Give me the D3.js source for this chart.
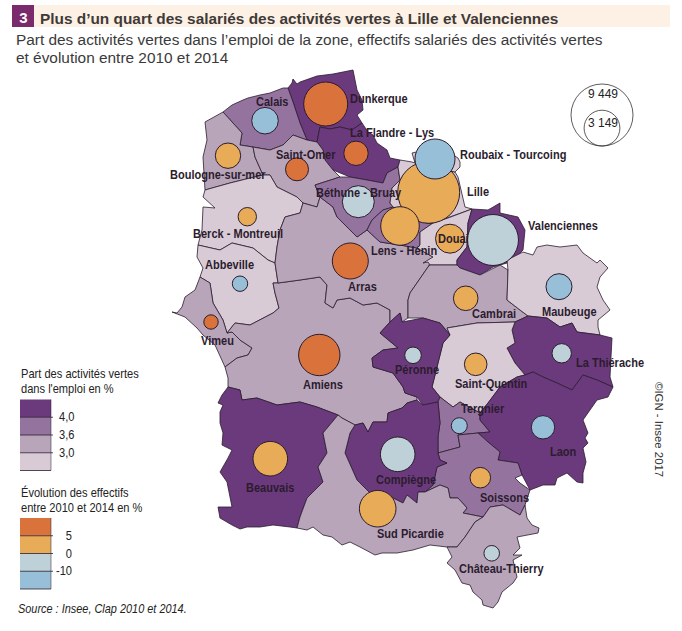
<!DOCTYPE html>
<html>
<head>
<meta charset="utf-8">
<script src="https://d3js.org/d3.v7.min.js"></script>
<style>
  html, body { margin: 0; padding: 0; background: #fff; }
  text { font-family: "Liberation Sans", Arial, sans-serif; }
</style>
</head>
<body>
<svg id="chart" width="682" height="631"></svg>
<script>
// zones, all the lists below are in the same order
var zoneNames = ['Dunkerque','La Flandre - Lys','Calais','Boulogne-sur-mer','Saint-Omer','Berck - Montreuil','Abbeville','Vimeu','Amiens','Arras','Béthune - Bruay','Lens - Hénin','Lille','Roubaix - Tourcoing','Douai','Valenciennes','Cambrai','Maubeuge','La Thiérache','Saint-Quentin','Péronne','Tergnier','Laon','Soissons','Compiègne','Beauvais','Sud Picardie','Château-Thierry'];
var zoneShare = [4.4,4.3,3.8,3.3,3.3,2.8,2.8,3.3,3.3,3.3,3.8,3.8,2.8,2.8,2.8,4.4,3.3,2.8,4.2,2.8,4.2,3.8,4.2,3.8,4.3,4.3,3.3,3.3];
var zoneStaff = [4759,1463,1739,1586,1300,832,583,510,4213,3186,2517,3662,9449,3933,2067,6393,1488,1662,925,1255,677,630,1346,1043,2943,2943,3293,598];
var zoneChange = [8,7,-13,3,8,3,-13,8,8,8,-5,3,3,-13,3,-5,3,-13,-5,3,-5,-13,-13,3,-5,3,3,-5];

// map geometry, in map units
var zoneOutlines = [
  [[288,88],[292,83],[293,79],[297,84],[300,82],[317,76],[333,74],[353,70],[355,80],[357,90],[362,100],[363,110],[357,115],[362,123],[352,130],[340,127],[330,129],[320,127],[317,142],[307,140],[300,123],[293,102]],
  [[320,127],[330,129],[340,127],[352,130],[362,123],[368,132],[373,135],[377,143],[387,150],[390,158],[400,160],[398,167],[387,173],[383,183],[367,180],[350,177],[333,170],[325,160],[323,150],[317,142]],
  [[223,112],[232,105],[243,100],[248,98],[260,95],[270,93],[283,88],[288,88],[293,102],[300,123],[307,140],[293,135],[283,145],[270,150],[253,147],[240,145],[242,133],[233,123]],
  [[205,122],[223,112],[233,123],[242,133],[240,145],[253,147],[255,157],[263,175],[250,178],[230,183],[205,190],[203,157],[207,140]],
  [[253,147],[270,150],[283,145],[293,135],[307,140],[317,142],[323,150],[325,160],[333,170],[340,177],[315,185],[320,197],[317,207],[303,203],[297,197],[277,187],[270,175],[263,175],[255,157]],
  [[205,190],[230,183],[250,178],[263,175],[270,175],[277,187],[297,197],[303,203],[300,213],[285,217],[280,230],[277,247],[275,263],[268,260],[253,248],[232,243],[220,250],[198,245],[202,230],[203,207],[215,208],[203,197]],
  [[198,245],[220,250],[232,243],[253,248],[268,260],[275,263],[278,283],[273,283],[275,293],[279,308],[273,313],[250,325],[235,323],[227,333],[223,320],[213,303],[210,283],[200,277],[203,268],[197,257]],
  [[172,312],[177,313],[182,307],[185,297],[195,290],[200,277],[210,283],[213,303],[223,320],[227,333],[232,332],[240,340],[252,348],[248,355],[237,358],[225,367],[215,345],[203,335],[197,328],[185,317]],
  [[225,367],[237,358],[248,355],[252,348],[240,340],[232,332],[227,333],[235,323],[250,325],[273,313],[279,308],[275,293],[273,283],[278,283],[300,280],[320,277],[327,285],[325,303],[333,308],[337,300],[350,298],[363,305],[377,303],[390,310],[390,322],[380,333],[398,348],[383,350],[372,358],[373,367],[393,373],[403,387],[405,393],[417,397],[417,400],[407,403],[402,408],[388,413],[387,422],[373,422],[368,432],[363,423],[355,425],[342,418],[338,415],[317,407],[300,402],[277,405],[257,398],[242,400],[240,390],[228,387],[228,378]],
  [[300,213],[303,203],[317,207],[320,197],[333,207],[337,217],[357,237],[367,230],[380,242],[400,245],[417,248],[433,257],[428,267],[410,293],[408,300],[408,318],[402,322],[400,313],[390,322],[390,310],[377,303],[363,305],[350,298],[337,300],[333,308],[325,303],[327,285],[320,277],[300,280],[278,283],[275,263],[277,247],[280,230],[285,217]],
  [[315,185],[340,177],[350,177],[367,180],[383,183],[387,173],[398,167],[400,180],[392,188],[390,203],[393,207],[383,210],[372,220],[367,230],[357,237],[337,217],[333,207],[320,197]],
  [[367,230],[372,220],[383,210],[393,207],[427,223],[433,223],[420,232],[420,245],[417,248],[400,245],[380,242]],
  [[398,167],[400,160],[412,162],[415,163],[455,172],[458,177],[465,207],[472,209],[433,223],[427,223],[393,207],[390,203],[392,188],[400,180]],
  [[412,153],[425,150],[445,150],[458,158],[460,162],[460,167],[455,172],[415,163]],
  [[433,223],[448,218],[472,209],[468,223],[467,247],[457,260],[457,265],[430,265],[428,262],[423,263],[433,257],[417,248],[420,245],[420,232]],
  [[472,209],[488,210],[500,203],[500,213],[518,217],[525,230],[523,250],[513,260],[507,263],[493,267],[480,275],[460,268],[457,265],[457,260],[467,247],[468,223]],
  [[430,265],[457,265],[460,268],[480,275],[500,265],[508,270],[507,300],[520,310],[528,316],[515,322],[477,323],[447,328],[450,335],[440,323],[423,318],[408,318],[408,300],[410,293],[428,267]],
  [[508,270],[507,260],[523,252],[533,255],[537,247],[547,245],[560,247],[577,245],[583,253],[597,263],[600,260],[608,268],[600,277],[597,287],[603,300],[610,310],[598,320],[598,327],[600,335],[577,332],[572,323],[560,327],[547,318],[528,316],[520,310],[507,300]],
  [[528,316],[547,318],[560,327],[572,323],[577,332],[600,335],[612,338],[611,357],[610,377],[613,387],[597,380],[583,375],[572,390],[557,383],[543,377],[533,372],[525,375],[515,363],[507,348],[515,343],[512,330],[515,322]],
  [[450,335],[447,328],[477,323],[515,322],[512,330],[515,343],[507,348],[515,363],[525,375],[517,377],[500,387],[488,403],[480,413],[460,402],[453,407],[440,397],[432,387],[443,343]],
  [[400,313],[402,322],[423,318],[440,323],[450,335],[443,343],[432,387],[440,397],[438,402],[423,405],[417,397],[405,393],[403,387],[393,373],[373,367],[372,358],[383,350],[398,348],[380,333],[390,322]],
  [[440,397],[453,407],[460,402],[480,413],[480,420],[490,432],[478,433],[458,435],[460,447],[438,453],[438,437],[440,423],[438,402]],
  [[613,387],[608,397],[597,400],[583,420],[588,433],[585,438],[588,443],[583,448],[586,462],[583,473],[583,483],[577,482],[567,473],[557,478],[555,485],[543,485],[530,490],[522,475],[518,463],[498,460],[500,452],[488,442],[478,433],[490,432],[480,420],[480,413],[488,403],[500,387],[517,377],[525,375],[533,372],[543,377],[557,383],[572,390],[583,375],[597,380]],
  [[438,453],[460,447],[458,435],[478,433],[488,442],[500,452],[498,460],[518,463],[522,475],[515,478],[520,483],[530,490],[525,505],[520,515],[503,505],[490,507],[483,517],[463,513],[467,508],[458,498],[450,498],[448,488],[440,485],[425,492],[433,485],[437,467],[447,463],[440,460]],
  [[417,400],[423,405],[438,402],[440,423],[438,437],[438,453],[440,460],[447,463],[437,467],[433,485],[425,492],[418,492],[417,503],[407,495],[403,503],[393,498],[370,493],[357,480],[345,453],[350,433],[355,425],[363,423],[368,432],[373,422],[387,422],[388,413],[402,408],[407,403]],
  [[228,387],[240,390],[242,400],[257,398],[277,405],[300,402],[317,407],[338,415],[323,433],[327,453],[318,467],[323,482],[307,498],[300,517],[297,528],[290,527],[273,525],[260,527],[247,527],[240,529],[232,525],[220,518],[218,507],[232,507],[230,497],[227,482],[220,472],[228,458],[232,450],[222,445],[223,433],[220,423],[220,412],[223,405],[218,403],[222,395]],
  [[342,418],[355,425],[350,433],[345,453],[357,480],[370,493],[393,498],[403,503],[407,495],[417,503],[418,492],[425,492],[440,485],[448,488],[450,498],[458,498],[467,508],[463,513],[483,517],[475,522],[465,537],[457,547],[447,547],[430,545],[413,550],[397,553],[382,553],[375,555],[360,547],[350,542],[342,545],[332,537],[323,535],[313,527],[307,530],[297,528],[300,517],[307,498],[323,482],[318,467],[327,453],[323,433],[338,415]],
  [[483,517],[490,507],[503,505],[520,515],[525,505],[527,518],[532,525],[539,528],[538,533],[517,537],[520,548],[513,555],[522,555],[513,560],[517,577],[513,583],[502,592],[498,602],[493,608],[483,605],[482,600],[473,592],[470,585],[462,583],[455,570],[447,563],[452,557],[447,547],[457,547],[465,537],[475,522]]
];
var zoneCentres = [[325.7,104],[356,153.3],[265,120.7],[228,155.7],[297,169.3],[247.3,216.7],[240,283.7],[211,322],[319.3,355],[350.3,261],[358.3,201.7],[400,226],[428.7,192.3],[435,159],[450,238.7],[493,240],[465.7,298.3],[559,286.7],[561.7,353.3],[475.7,364.3],[413,355.3],[459.3,425.7],[543,427.3],[480.3,477.7],[397.7,454.3],[270.3,458.7],[377.7,508.7],[491.7,553.3]];
var labelAnchors = [[350,103],[350,137],[256,106],[170,179],[276,159],[193,238],[205,269],[201,345],[303,389],[348,291],[316,197],[371,255],[467,196],[460,159],[438,243],[528,230],[472,318],[542,316],[576,367],[455,388],[395,374],[461,413],[550,456],[480,502],[376,484],[246,492],[377,538],[459,573]];

// classes of the two legends
var shareBreaks = [3.0, 3.6, 4.0];
var shareColors = ['#d8cbd6','#b8a5ba','#94749f','#6b3a7d'];
var shareLabels = ['3,0','3,6','4,0'];
var changeBreaks = [-10, 0, 5];
var changeColors = ['#98bfd8','#bed1d8','#e8ab58','#d9733b'];
var changeLabels = ['-10','0','5'];
var sizeKey = [9449, 3149];

var svg = d3.select('#chart');
var ink = '#2b1c2e';

var shareColor = d3.scaleThreshold().domain(shareBreaks).range(shareColors);
var changeColor = d3.scaleThreshold().domain(changeBreaks).range(changeColors);
var radius = d3.scaleSqrt().domain([0, 9449]).range([0, 31]);

// header
svg.append('rect').attr('x', 12).attr('y', 5).attr('width', 658).attr('height', 22).attr('fill', '#fdf1e6');
svg.append('rect').attr('x', 12).attr('y', 5).attr('width', 22).attr('height', 22).attr('fill', '#7b2a6b');
svg.append('text').attr('x', 23.5).attr('y', 22.5).attr('text-anchor', 'middle').attr('fill', '#fff')
  .attr('font-size', 15).attr('font-weight', 'bold').text('3');
svg.append('text').attr('x', 40).attr('y', 23.5).attr('fill', '#3f3a38').attr('font-size', 15.4).attr('font-weight', 'bold')
  .text('Plus d’un quart des salariés des activités vertes à Lille et Valenciennes');
svg.append('text').attr('x', 16).attr('y', 44.5).attr('fill', '#3a3a3a').attr('font-size', 15.4)
  .text('Part des activités vertes dans l’emploi de la zone, effectifs salariés des activités vertes');
svg.append('text').attr('x', 16).attr('y', 62.5).attr('fill', '#3a3a3a').attr('font-size', 15.4)
  .text('et évolution entre 2010 et 2014');

// map
var features = zoneOutlines.map(function(ring, i){
  return {type: 'Feature', properties: {name: zoneNames[i], share: zoneShare[i]},
    geometry: {type: 'Polygon', coordinates: [ring.concat([ring[0]])]}};
});
var projection = d3.geoIdentity();
var path = d3.geoPath(projection);

svg.append('g').selectAll('path').data(features).enter().append('path')
  .attr('d', path)
  .attr('fill', function(d){ return shareColor(d.properties.share); })
  .attr('stroke', ink).attr('stroke-width', 0.8).attr('stroke-linejoin', 'round');

// bubbles, biggest first, Roubaix sits on top of Lille
var order = d3.range(zoneNames.length).sort(function(a, b){ return zoneStaff[b] - zoneStaff[a]; });
svg.append('g').selectAll('circle').data(order).enter().append('circle')
  .attr('cx', function(i){ return projection(zoneCentres[i])[0]; })
  .attr('cy', function(i){ return projection(zoneCentres[i])[1]; })
  .attr('r', function(i){ return radius(zoneStaff[i]); })
  .attr('fill', function(i){ return changeColor(zoneChange[i]); })
  .attr('stroke', ink).attr('stroke-width', 1);

svg.append('g').selectAll('text').data(zoneNames).enter().append('text')
  .attr('transform', function(d, i){ return 'translate(' + projection(labelAnchors[i]) + ') scale(0.92,1)'; })
  .attr('fill', ink).attr('font-size', 12).attr('font-weight', 'bold')
  .text(function(d){ return d; });

// size key
var keyX = 602, keyBottom = 146;
var key = svg.append('g');
key.selectAll('circle').data(sizeKey).enter().append('circle')
  .attr('cx', keyX).attr('cy', function(d){ return keyBottom - radius(d); })
  .attr('r', function(d){ return radius(d); })
  .attr('fill', 'none').attr('stroke', '#333').attr('stroke-width', 0.8);
key.selectAll('text').data(sizeKey).enter().append('text')
  .attr('x', keyX + 1).attr('y', function(d, i){ return i ? 127 : 98; })
  .attr('text-anchor', 'middle').attr('fill', '#222').attr('font-size', 12)
  .text(function(d){ return d3.format(',')(d).replace(',', ' '); });

// narrow grey text, the original uses a tighter face
function plainText(x, y, s, anchor){
  return svg.append('text').attr('transform', 'translate(' + x + ',' + y + ') scale(0.925,1)')
    .attr('text-anchor', anchor || 'start').attr('fill', '#222').attr('font-size', 12).text(s);
}

// step legends
function stepLegend(top, bottom, colors, labels, labelX, anchor){
  var y = d3.scaleBand().domain(d3.range(colors.length).reverse()).range([top, bottom]);
  var g = svg.append('g');
  g.selectAll('rect').data(y.domain()).enter().append('rect')
    .attr('x', 20).attr('width', 31)
    .attr('y', function(d){ return y(d); }).attr('height', y.bandwidth())
    .attr('fill', function(d){ return colors[d]; });
  g.selectAll('line').data(labels).enter().append('line')
    .attr('x1', 20).attr('x2', 53)
    .attr('y1', function(d, i){ return y(i); }).attr('y2', function(d, i){ return y(i); })
    .attr('stroke', ink).attr('stroke-width', 0.8);
  g.append('line').attr('x1', 20).attr('x2', 51).attr('y1', bottom).attr('y2', bottom).attr('stroke', ink).attr('stroke-width', 0.8);
  g.append('line').attr('x1', 51).attr('x2', 51).attr('y1', top).attr('y2', bottom).attr('stroke', ink).attr('stroke-width', 0.5);
  labels.forEach(function(s, i){ plainText(labelX, y(i) + 4, s, anchor); });
}
plainText(21, 378, 'Part des activités vertes');
plainText(21, 393, 'dans l\'emploi en %');
stepLegend(399.5, 470.5, shareColors, shareLabels, 59, 'start');
plainText(21, 496.5, 'Évolution des effectifs');
plainText(21, 512, 'entre 2010 et 2014 en %');
stepLegend(518, 589, changeColors, changeLabels, 72, 'end');

svg.append('text').attr('transform', 'translate(18,613) scale(0.91,1)').attr('fill', '#222').attr('font-size', 12).attr('font-style', 'italic')
  .text('Source : Insee, Clap 2010 et 2014.');
svg.append('text').attr('transform', 'translate(655,382) rotate(90)').attr('fill', '#333').attr('font-size', 11.4)
  .text('©IGN - Insee 2017');
</script>
</body>
</html>
